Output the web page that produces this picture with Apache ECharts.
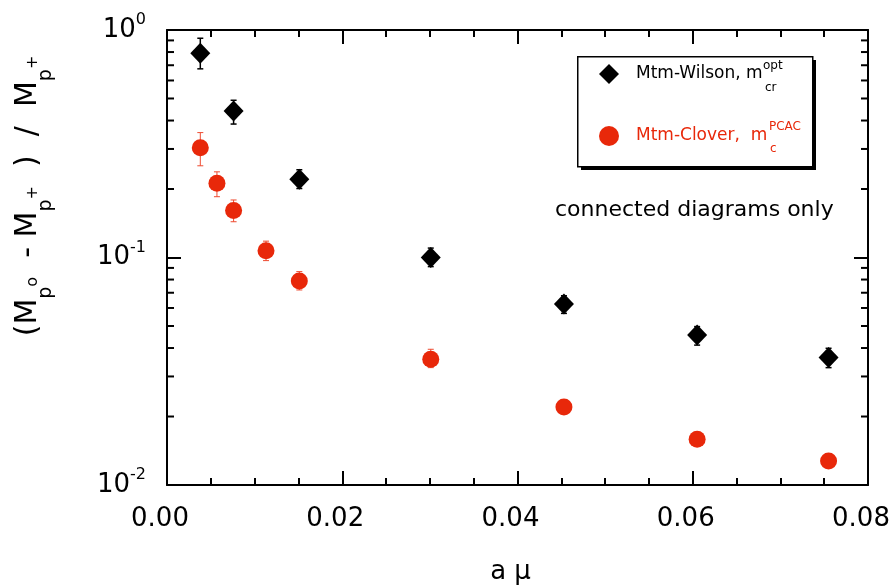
<!DOCTYPE html>
<html><head><meta charset="utf-8">
<script src="https://cdn.jsdelivr.net/npm/echarts@6/dist/echarts.min.js"></script>
<style>html,body{margin:0;padding:0;background:#fff}#c{width:891px;height:585px}</style>
</head><body><div id="c"></div>
<script>
// ---- data ----
const wilsonX  = [0.0038, 0.0076, 0.0151, 0.0301, 0.0453, 0.0605, 0.0755];
const wilsonY  = [0.79, 0.44, 0.221, 0.100, 0.0625, 0.0456, 0.0363];
const wilsonLo = [0.675, 0.386, 0.201, 0.0912, 0.0568, 0.0412, 0.0328];
const wilsonHi = [0.92, 0.491, 0.243, 0.110, 0.0679, 0.0497, 0.0399];

const cloverX  = [0.0038, 0.0057, 0.0076, 0.0113, 0.0151, 0.0301, 0.0453, 0.0605, 0.0755];
const cloverY  = [0.304, 0.212, 0.161, 0.107, 0.0788, 0.0357, 0.0220, 0.0159, 0.01275];
const cloverLo = [0.253, 0.185, 0.1436, 0.0969, 0.072, 0.0328, 0.0208, 0.0153, 0.0123];
const cloverHi = [0.354, 0.238, 0.179, 0.118, 0.0867, 0.0395, 0.0232, 0.0165, 0.0132];

const xTickLabels = ['0.00', '0.02', '0.04', '0.06', '0.08'];
const yMinorTicks = [0.02,0.03,0.04,0.05,0.06,0.07,0.08,0.09,0.2,0.3,0.4,0.5,0.6,0.7,0.8,0.9];

const seriesNames = ['Mtm-Wilson', 'Mtm-Clover'];
const legendTexts = ['Mtm-Wilson, m', 'Mtm-Clover,  m'];

// ---- styles ----
const FONT = "'DejaVu Sans', Verdana, sans-serif";
const RED = '#e8280a';
const ERR_RED = '#ee4a30';

const chart = echarts.init(document.getElementById('c'), null, {renderer: 'canvas'});

function pts(xs, ys) { return xs.map((x, i) => [x, ys[i]]); }
function errData(xs, lo, hi) { return xs.map((x, i) => [x, lo[i], hi[i]]); }
function errRender(color, width, cap) {
  return function (params, api) {
    const x = api.value(0), lo = api.value(1), hi = api.value(2);
    const p1 = api.coord([x, hi]), p2 = api.coord([x, lo]);
    const st = {stroke: color, lineWidth: width};
    return {type: 'group', children: [
      {type: 'line', shape: {x1: p1[0], y1: p1[1], x2: p2[0], y2: p2[1]}, style: st},
      {type: 'line', shape: {x1: p1[0] - cap, y1: p1[1], x2: p1[0] + cap, y2: p1[1]}, style: st},
      {type: 'line', shape: {x1: p2[0] - cap, y1: p2[1], x2: p2[0] + cap, y2: p2[1]}, style: st}
    ]};
  };
}
function minorTickRender(params, api) {
  const v = api.value(1);
  const l = api.coord([0, v]);
  const r = api.coord([0.08, v]);
  const st = {stroke: '#000', lineWidth: 2};
  return {type: 'group', children: [
    {type: 'line', shape: {x1: l[0], y1: l[1], x2: l[0] + 7, y2: l[1]}, style: st},
    {type: 'line', shape: {x1: r[0] - 7, y1: r[1], x2: r[0], y2: r[1]}, style: st}
  ]};
}

const axisLine = {show: true, onZero: false, lineStyle: {color: '#000', width: 2}};
const xCommon = {
  type: 'value', min: 0, max: 0.08, interval: 0.02,
  axisLine: axisLine,
  axisTick: {show: true, inside: true, length: 14, lineStyle: {color: '#000', width: 2}},
  minorTick: {show: true, splitNumber: 4, length: 7, lineStyle: {color: '#000', width: 2}},
  splitLine: {show: false}, minorSplitLine: {show: false}
};
const yCommon = {
  type: 'log', logBase: 10, min: 0.01, max: 1,
  axisLine: axisLine,
  axisTick: {show: true, inside: true, length: 14, lineStyle: {color: '#000', width: 2}},
  splitLine: {show: false}
};

const option = {
  backgroundColor: '#fff',
  animation: false,
  grid: {left: 167, right: 23, top: 30, bottom: 100, containLabel: false, outerBoundsMode: 'none'},
  xAxis: [
    Object.assign({}, xCommon, {
      position: 'bottom',
      name: 'a μ', nameLocation: 'middle', nameGap: 74,
      nameTextStyle: {fontFamily: FONT, fontSize: 26, color: '#000', padding: [0, 14, 0, 0]},
      axisLabel: {
        show: true, fontFamily: FONT, fontSize: 26, color: '#000', margin: 21,
        padding: [0, 14, 0, 0],
        formatter: function (v) { return xTickLabels[Math.round(v / 0.02)]; }
      }
    }),
    Object.assign({}, xCommon, {position: 'top', axisLabel: {show: false}})
  ],
  yAxis: [
    Object.assign({}, yCommon, {
      position: 'left',
      axisLabel: {
        show: true, margin: 21, color: '#000',
        formatter: function (v) {
          const e = Math.round(Math.log10(v));
          return '{b|10}{s|' + e + '}';
        },
        rich: {
          b: {fontFamily: FONT, fontSize: 26, lineHeight: 36, color: '#000'},
          s: {fontFamily: FONT, fontSize: 16, lineHeight: 16, verticalAlign: 'top', color: '#000'}
        }
      }
    }),
    Object.assign({}, yCommon, {position: 'right', axisLabel: {show: false}})
  ],
  legend: {
    show: true, orient: 'vertical', left: 577, top: 56,
    padding: [8, 10, 10, 22], itemWidth: 20, itemHeight: 20, itemGap: 42,
    selectedMode: false,
    data: [
      {name: seriesNames[0], textStyle: {color: '#000', fontFamily: FONT, fontSize: 17}},
      {name: seriesNames[1], textStyle: {color: RED, fontFamily: FONT, fontSize: 17}}
    ],
    formatter: function (name) {
      return legendTexts[seriesNames.indexOf(name)];
    },
    textStyle: {fontFamily: FONT, fontSize: 17, padding: [0, 0, 0, 12]},
    z: 20
  },
  graphic: [
    {type: 'rect', left: 581, top: 60, z: 9,
     shape: {width: 235, height: 110},
     style: {fill: '#000', lineWidth: 0}},
    {type: 'rect', left: 577, top: 56, z: 10,
     shape: {width: 235, height: 110},
     style: {fill: '#fff', stroke: '#000', lineWidth: 1.5}},
    {type: 'text', x: 763, y: 66, z: 30,
     style: {text: 'opt', fontFamily: FONT, fontSize: 12, fill: '#000', verticalAlign: 'middle'}},
    {type: 'text', x: 765, y: 88, z: 30,
     style: {text: 'cr', fontFamily: FONT, fontSize: 12, fill: '#000', verticalAlign: 'middle'}},
    {type: 'text', x: 769, y: 127, z: 30,
     style: {text: 'PCAC', fontFamily: FONT, fontSize: 12, fill: RED, verticalAlign: 'middle'}},
    {type: 'text', x: 770, y: 149, z: 30,
     style: {text: 'c', fontFamily: FONT, fontSize: 12, fill: RED, verticalAlign: 'middle'}},
    {type: 'text', x: 555, y: 210, z: 30,
     style: {text: 'connected diagrams only', fontFamily: FONT, fontSize: 22, fill: '#000', verticalAlign: 'middle'}},
    {type: 'text', x: 28, y: 196, rotation: Math.PI / 2, z: 30,
     style: {
       text: '{m|(M}{b|p}{s|o}{m|  - M}{b|p}{s|+}{m|  )  /  M}{b|p}{s|+}',
       align: 'center', verticalAlign: 'middle', fill: '#000',
       rich: {
         m: {fontFamily: FONT, fontSize: 30, lineHeight: 30, verticalAlign: 'top', fill: '#000'},
         b: {fontFamily: FONT, fontSize: 19, lineHeight: 19, verticalAlign: 'top', padding: [24, 0, 0, 0], fill: '#000'},
         s: {fontFamily: FONT, fontSize: 16, lineHeight: 16, verticalAlign: 'top', padding: [12, 0, 0, 0], fill: '#000'}
       }
     }}
  ],
  series: [
    {type: 'custom', name: 'minor-log-ticks', xAxisIndex: 0, yAxisIndex: 0,
     data: yMinorTicks.map(v => [0, v]), encode: {x: 0, y: 1},
     renderItem: minorTickRender, silent: true, z: 3},
    {type: 'custom', name: 'wilson-err', xAxisIndex: 0, yAxisIndex: 0,
     data: errData(wilsonX, wilsonLo, wilsonHi), encode: {x: 0, y: [1, 2]},
     renderItem: errRender('#000', 1.5, 3), silent: true, z: 4},
    {type: 'custom', name: 'clover-err', xAxisIndex: 0, yAxisIndex: 0,
     data: errData(cloverX, cloverLo, cloverHi), encode: {x: 0, y: [1, 2]},
     renderItem: errRender(ERR_RED, 1, 3), silent: true, z: 4},
    {type: 'scatter', name: seriesNames[0], xAxisIndex: 0, yAxisIndex: 0,
     data: pts(wilsonX, wilsonY), symbol: 'diamond', symbolSize: [20, 21],
     itemStyle: {color: '#000', opacity: 1}, z: 5},
    {type: 'scatter', name: seriesNames[1], xAxisIndex: 0, yAxisIndex: 0,
     data: pts(cloverX, cloverY), symbol: 'circle', symbolSize: 17,
     itemStyle: {color: RED, opacity: 1}, z: 5}
  ]
};
chart.setOption(option);
</script>
</body></html>
